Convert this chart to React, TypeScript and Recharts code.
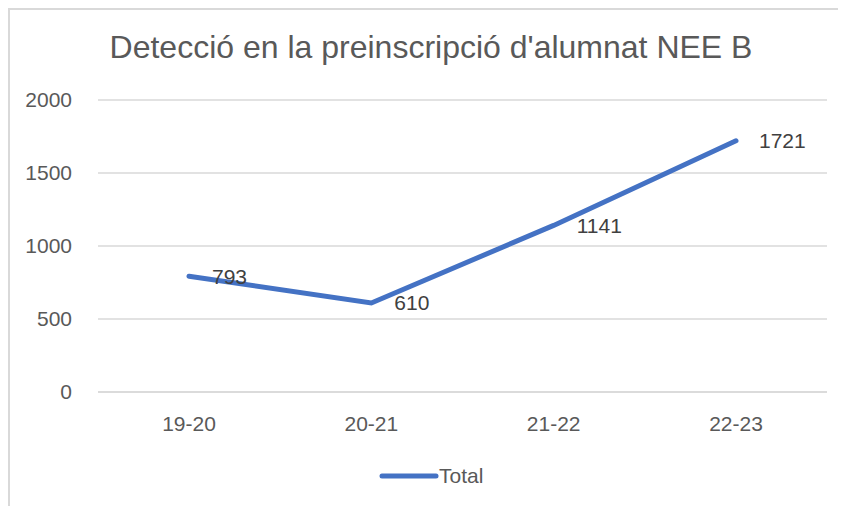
import { LineChart, Line, XAxis, YAxis, CartesianGrid, Legend, LabelList } from 'recharts'

const categories = ['19-20', '20-21', '21-22', '22-23']
const totals = [793, 610, 1141, 1721]
const yTicks = [0, 500, 1000, 1500, 2000]

const chartData = categories.map((curs, i) => ({ curs, Total: totals[i] }))

const FONT = '"Liberation Sans", Arial, sans-serif'

// Excel-style label placed to the right of the point
const RightLabel = (props: any) => {
  const { x, y, value } = props
  return (
    <text x={x + 23} y={y} dy="0.35em" fill="#404040" fontSize={21} fontFamily={FONT} textAnchor="start">
      {value}
    </text>
  )
}

const LegendContent = () => (
  <div style={{ display: 'flex', alignItems: 'center', fontFamily: FONT, fontSize: 21, color: '#595959' }}>
    <svg width={60} height={10}>
      <line x1={3} y1={5} x2={57} y2={5} stroke="#4472C4" strokeWidth={5} strokeLinecap="round" />
    </svg>
    <span>Total</span>
  </div>
)

export default function App() {
  return (
    <div
      style={{
        position: 'relative',
        boxSizing: 'border-box',
        width: 838,
        height: 498,
        borderTop: '2px solid #d9d9d9',
        borderLeft: '2px solid #d9d9d9',
        background: '#fff',
        overflow: 'hidden',
      }}
    >
      <div
        style={{
          position: 'absolute',
          top: 19,
          left: 0,
          width: 842,
          textAlign: 'center',
          fontFamily: FONT,
          fontSize: 32,
          color: '#595959',
        }}
      >
        Detecció en la preinscripció d'alumnat NEE B
      </div>
      <LineChart
        width={836}
        height={496}
        data={chartData}
        margin={{ top: 90, right: 19, left: 0, bottom: 12 }}
      >
        <CartesianGrid vertical={false} stroke="#d9d9d9" strokeWidth={1.5} />
        <XAxis
          dataKey="curs"
          axisLine={{ stroke: '#d9d9d9', strokeWidth: 1.5 }}
          tickLine={false}
          height={72}
          padding={{ left: 91, right: 91 }}
          tick={{ fill: '#595959', fontSize: 21, fontFamily: FONT }}
          tickMargin={18}
        />
        <YAxis
          domain={[0, 2000]}
          ticks={yTicks}
          width={88}
          axisLine={false}
          tickLine={false}
          tickMargin={20}
          tick={{ fill: '#595959', fontSize: 21, fontFamily: FONT }}
        />
        <Legend
          verticalAlign="bottom"
          height={30}
          content={<LegendContent />}
          wrapperStyle={{ left: 369, width: 'auto' }}
        />
        <Line
          type="linear"
          dataKey="Total"
          stroke="#4472C4"
          strokeWidth={5}
          strokeLinecap="round"
          dot={false}
          activeDot={false}
          isAnimationActive={false}
        >
          <LabelList dataKey="Total" content={<RightLabel />} />
        </Line>
      </LineChart>
    </div>
  )
}
